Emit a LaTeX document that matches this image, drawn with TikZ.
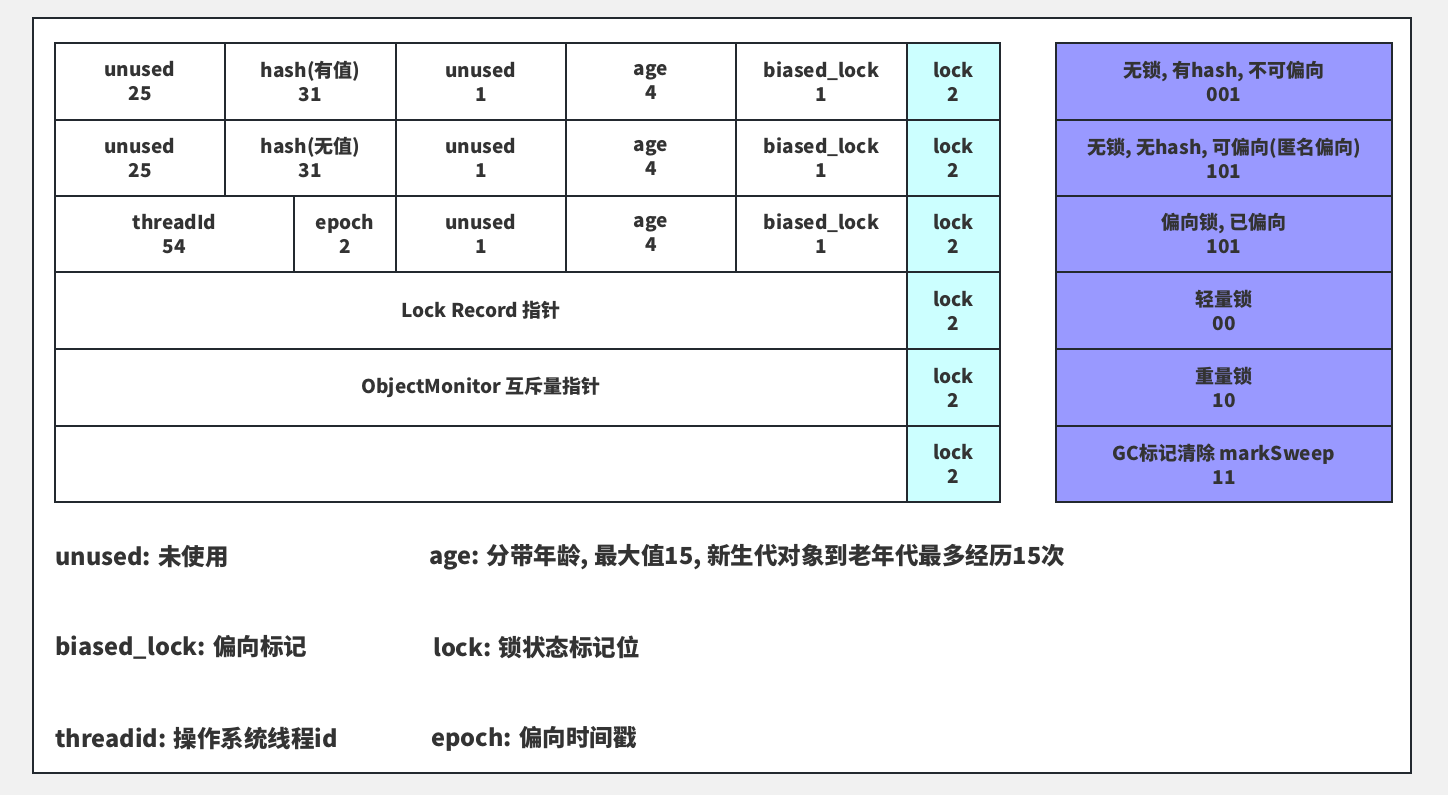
\documentclass[tikz,border=0pt]{standalone}
\usepackage{fontspec}
\setmainfont{Noto Sans CJK SC}
\definecolor{txt}{HTML}{333333}
\definecolor{edge}{HTML}{23292F}
\definecolor{lockc}{HTML}{CCFFFF}
\definecolor{statec}{HTML}{9999FF}
\definecolor{bg}{HTML}{F1F1F1}
\newcommand{\cellbox}[7]{\node[cellst, fill=#6, minimum width={#4-#2}, minimum height={#5-#3}] (#1) at ({(#2+#4)/2},{(#3+#5)/2}) {#7};}
\tikzset{
  cellst/.style={draw=edge, line width=2.5pt, rectangle, inner sep=0pt, outer sep=0pt, align=center, text=txt, font=\fontsize{19}{24}\selectfont\bfseries},
  legend/.style={anchor=west, inner sep=0pt, text=txt, font=\fontsize{23.5}{28}\selectfont\bfseries}
}
\begin{document}
\begin{tikzpicture}[x=1pt,y=-1pt]
\useasboundingbox (0,0) rectangle (1448,795);
\fill[bg] (0,0) rectangle (1448,795);
\draw[edge, fill=white, line width=2.5pt] (33,18) rectangle (1411,773);
% row 1
\cellbox{a1}{55}{43}{225}{120}{white}{unused\\25}
\cellbox{a2}{225}{43}{396}{120}{white}{hash(有值)\\31}
\cellbox{a3}{396}{43}{566}{120}{white}{unused\\1}
\cellbox{a4}{566}{43}{736}{120}{white}{age\\4}
\cellbox{a5}{736}{43}{907}{120}{white}{biased\_lock\\1}
\cellbox{a6}{907}{43}{1000}{120}{lockc}{lock\\2}
% row 2
\cellbox{b1}{55}{120}{225}{196}{white}{unused\\25}
\cellbox{b2}{225}{120}{396}{196}{white}{hash(无值)\\31}
\cellbox{b3}{396}{120}{566}{196}{white}{unused\\1}
\cellbox{b4}{566}{120}{736}{196}{white}{age\\4}
\cellbox{b5}{736}{120}{907}{196}{white}{biased\_lock\\1}
\cellbox{b6}{907}{120}{1000}{196}{lockc}{lock\\2}
% row 3
\cellbox{c1}{55}{196}{294}{272}{white}{threadId\\54}
\cellbox{c2}{294}{196}{396}{272}{white}{epoch\\2}
\cellbox{c3}{396}{196}{566}{272}{white}{unused\\1}
\cellbox{c4}{566}{196}{736}{272}{white}{age\\4}
\cellbox{c5}{736}{196}{907}{272}{white}{biased\_lock\\1}
\cellbox{c6}{907}{196}{1000}{272}{lockc}{lock\\2}
% row 4-6
\cellbox{d1}{55}{272}{907}{349}{white}{Lock Record 指针}
\cellbox{d6}{907}{272}{1000}{349}{lockc}{lock\\2}
\cellbox{e1}{55}{349}{907}{426}{white}{ObjectMonitor 互斥量指针}
\cellbox{e6}{907}{349}{1000}{426}{lockc}{lock\\2}
\cellbox{f1}{55}{426}{907}{502}{white}{}
\cellbox{f6}{907}{426}{1000}{502}{lockc}{lock\\2}
% states
\cellbox{s1}{1056}{43}{1392}{120}{statec}{无锁, 有hash, 不可偏向\\001}
\cellbox{s2}{1056}{120}{1392}{196}{statec}{无锁, 无hash, 可偏向(匿名偏向)\\101}
\cellbox{s3}{1056}{196}{1392}{272}{statec}{偏向锁, 已偏向\\101}
\cellbox{s4}{1056}{272}{1392}{349}{statec}{轻量锁\\00}
\cellbox{s5}{1056}{349}{1392}{426}{statec}{重量锁\\10}
\cellbox{s6}{1056}{426}{1392}{502}{statec}{GC标记清除 markSweep\\11}
% legend
\node[legend] (l1) at (55,557) {unused: 未使用};
\node[legend] (l2) at (429,557) {age: 分带年龄, 最大值15, 新生代对象到老年代最多经历15次};
\node[legend] (l3) at (55,647) {biased\_lock: 偏向标记};
\node[legend] (l4) at (433,647) {lock: 锁状态标记位};
\node[legend] (l5) at (55,739) {threadid: 操作系统线程id};
\node[legend] (l6) at (431,739) {epoch: 偏向时间戳};
\end{tikzpicture}
\end{document}
